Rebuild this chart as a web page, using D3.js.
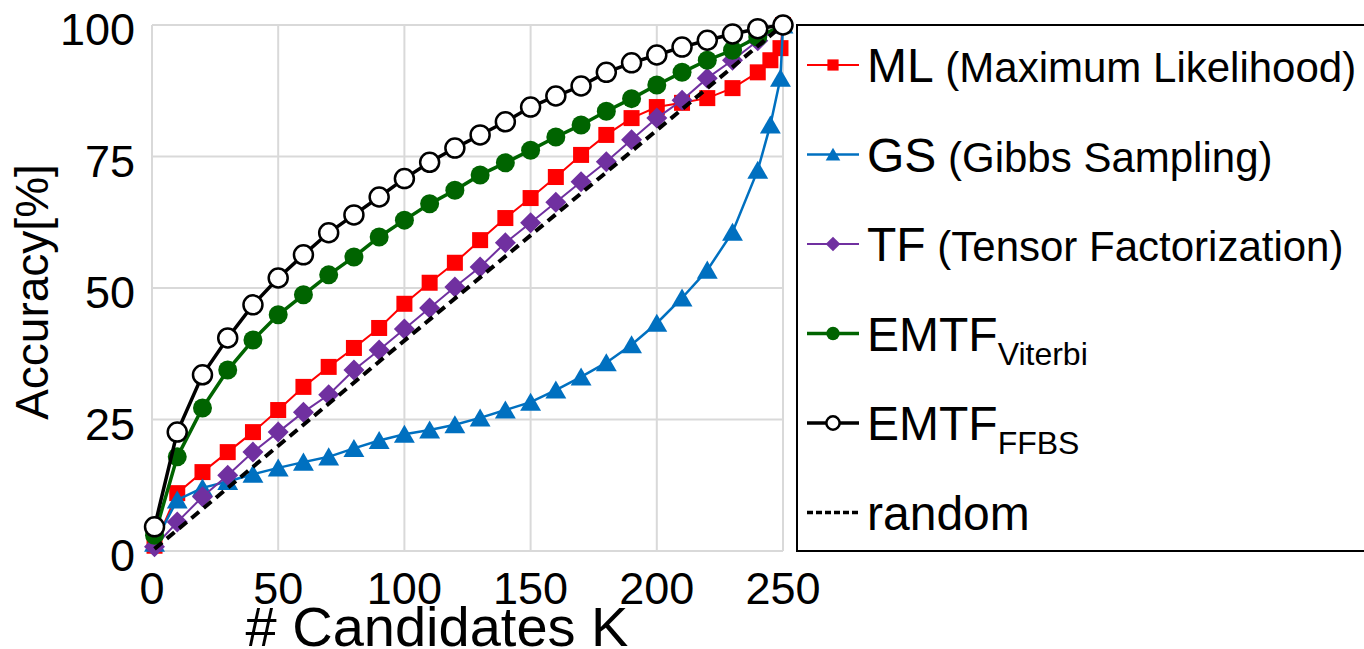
<!DOCTYPE html>
<html>
<head>
<meta charset="utf-8">
<script src="https://cdn.jsdelivr.net/npm/d3@7"></script>
<style>
  body { margin: 0; background: #fff; }
  svg text { font-family: "Liberation Sans", Arial, sans-serif; fill: #000; }
</style>
</head>
<body>
<div id="chart"></div>
<script>
// Candidate counts (x values)
const kMain = [1, 10, 20, 30, 40, 50, 60, 70, 80, 90, 100, 110, 120, 130, 140, 150, 160, 170, 180, 190, 200, 210, 220, 230, 240, 250];
const kDense = [1, 10, 20, 30, 40, 50, 60, 70, 80, 90, 100, 110, 120, 130, 140, 150, 160, 170, 180, 190, 200, 210, 220, 230, 240, 245, 249, 250];
const kRandom = [1, 250];

// Accuracy [%] per method
const mlValues = [1, 11, 15, 18.8, 22.6, 26.8, 31.2, 35, 38.6, 42.4, 47, 51, 54.8, 59.1, 63.3, 67.1, 71.1, 75.3, 79.1, 82.3, 84.4, 85.2, 86.1, 88, 91, 93.3, 95.6, 100];
const gsValues = [1.5, 9.7, 12, 13.2, 14.6, 15.8, 16.9, 17.9, 19.5, 21, 22.2, 23, 24, 25.3, 26.8, 28.3, 30.6, 33.1, 35.8, 39.2, 43.3, 48.1, 53.4, 60.6, 72.4, 81, 89.9, 100];
const tfValues = [0.8, 5.5, 10.3, 14.4, 18.8, 22.6, 26.4, 29.7, 34.4, 38.2, 42.2, 46.2, 50.2, 54, 58.6, 62.4, 66.3, 70.2, 74, 78.2, 82.3, 85.7, 89.9, 93.3, 97, 100];
const viterbiValues = [3, 17.9, 27.2, 34.4, 40.1, 44.9, 48.7, 52.5, 55.9, 59.7, 62.9, 66, 68.6, 71.5, 73.8, 76.2, 78.7, 81, 83.6, 86, 88.6, 91, 93.3, 95.2, 97.7, 100];
const ffbsValues = [4.6, 22.6, 33.5, 40.5, 46.8, 51.9, 56.3, 60.5, 63.9, 67.3, 70.8, 73.9, 76.6, 79.1, 81.6, 84.4, 86.5, 88.4, 91, 92.8, 94.3, 95.8, 97.1, 98.3, 99.3, 100];
const randomValues = [0.4, 100];

// Axis ticks
const xTicks = [0, 50, 100, 150, 200, 250];
const yTicks = [0, 25, 50, 75, 100];

const width = 1364;
const height = 649;

const svg = d3.select('#chart')
    .append('svg')
    .attr('width', width)
    .attr('height', height);

const x = d3.scaleLinear().domain([0, 250]).range([152, 783]);
const y = d3.scaleLinear().domain([0, 100]).range([551, 25]);

// Gridlines
svg.append('g')
    .selectAll('line')
    .data(xTicks)
    .join('line')
    .attr('x1', d => x(d)).attr('x2', d => x(d))
    .attr('y1', y(0)).attr('y2', y(100))
    .attr('stroke', '#d9d9d9')
    .attr('stroke-width', 2);

svg.append('g')
    .selectAll('line')
    .data(yTicks)
    .join('line')
    .attr('x1', x(0)).attr('x2', x(250))
    .attr('y1', d => y(d)).attr('y2', d => y(d))
    .attr('stroke', '#d9d9d9')
    .attr('stroke-width', 2);

// Tick labels
svg.append('g')
    .selectAll('text')
    .data(yTicks)
    .join('text')
    .attr('x', 135)
    .attr('y', d => y(d) + 20)
    .attr('text-anchor', 'end')
    .attr('font-size', '45px')
    .text(d => d);

svg.append('g')
    .selectAll('text')
    .data(xTicks)
    .join('text')
    .attr('x', d => x(d))
    .attr('y', 604)
    .attr('text-anchor', 'middle')
    .attr('font-size', '45px')
    .text(d => d);

// Axis titles
svg.append('text')
    .attr('x', 437)
    .attr('y', 646)
    .attr('text-anchor', 'middle')
    .attr('font-size', '56px')
    .text('# Candidates K');

svg.append('text')
    .attr('transform', `translate(48, ${(y(0) + y(100)) / 2 + 4}) rotate(-90)`)
    .attr('text-anchor', 'middle')
    .attr('font-size', '46px')
    .text('Accuracy[%]');

// Marker drawing helpers
const markers = {
    square: (g, s) => g.append('rect').attr('x', -s / 2).attr('y', -s / 2).attr('width', s).attr('height', s),
    triangle: (g, s) => g.append('path').attr('d', `M0,${-s * 0.5}L${s * 0.55},${s * 0.45}L${-s * 0.55},${s * 0.45}Z`),
    diamond: (g, s) => g.append('path').attr('d', `M0,${-s / 2}L${s / 2},0L0,${s / 2}L${-s / 2},0Z`),
    circle: (g, s) => g.append('circle').attr('r', s / 2)
};

const series = [
    { name: 'ML', note: ' (Maximum Likelihood)', ks: kDense, values: mlValues, color: '#ff0000', lw: 2, marker: 'square', size: 16, fill: '#ff0000' },
    { name: 'GS', note: ' (Gibbs Sampling)', ks: kDense, values: gsValues, color: '#0070c0', lw: 2.5, marker: 'triangle', size: 19, fill: '#0070c0' },
    { name: 'TF', note: ' (Tensor Factorization)', ks: kMain, values: tfValues, color: '#7030a0', lw: 2, marker: 'diamond', size: 21, fill: '#7030a0' },
    { name: 'EMTF', sub: 'Viterbi', ks: kMain, values: viterbiValues, color: '#006400', lw: 3.5, marker: 'circle', size: 19, fill: '#006400' },
    { name: 'random', ks: kRandom, values: randomValues, color: '#000', lw: 4, dash: '10,6' },
    { name: 'EMTF', sub: 'FFBS', ks: kMain, values: ffbsValues, color: '#000', lw: 3.5, marker: 'circle', size: 19, fill: '#fff', stroke: 2.5 }
];

const line = d3.line().x(d => x(d[0])).y(d => y(d[1]));

series.forEach(s => {
    const pts = s.ks.map((k, i) => [k, s.values[i]]);
    svg.append('path')
        .attr('d', line(pts))
        .attr('fill', 'none')
        .attr('stroke', s.color)
        .attr('stroke-width', s.lw)
        .attr('stroke-dasharray', s.dash || null);
    if (s.marker) {
        pts.forEach(p => {
            const g = svg.append('g').attr('transform', `translate(${x(p[0])},${y(p[1])})`);
            const m = markers[s.marker](g, s.size).attr('fill', s.fill);
            if (s.stroke) m.attr('stroke', s.color).attr('stroke-width', s.stroke);
        });
    }
});

// Legend
svg.append('rect')
    .attr('x', 797)
    .attr('y', 25)
    .attr('width', 600)
    .attr('height', 526)
    .attr('fill', 'none')
    .attr('stroke', '#000')
    .attr('stroke-width', 2);

const legendOrder = [0, 1, 2, 3, 5, 4];
legendOrder.forEach((si, i) => {
    const s = series[si];
    const ly = 65 + i * 89.5;
    svg.append('line')
        .attr('x1', 807).attr('x2', 859)
        .attr('y1', ly).attr('y2', ly)
        .attr('stroke', s.color)
        .attr('stroke-width', s.dash ? 3.5 : s.lw)
        .attr('stroke-dasharray', s.dash ? '6,3' : null);
    if (s.marker) {
        const g = svg.append('g').attr('transform', `translate(833,${ly})`);
        const m = markers[s.marker](g, s.size * 0.7).attr('fill', s.fill);
        if (s.stroke) m.attr('stroke', s.color).attr('stroke-width', 2.5);
    }
    const t = svg.append('text')
        .attr('x', 867)
        .attr('y', ly + 17)
        .attr('font-size', '48px')
        .text(s.name);
    if (s.note) {
        t.append('tspan').attr('font-size', '42px').text(s.note);
    }
    if (s.sub) {
        t.append('tspan').attr('font-size', '32px').attr('dy', 14).text(s.sub);
    }
});
</script>
</body>
</html>
